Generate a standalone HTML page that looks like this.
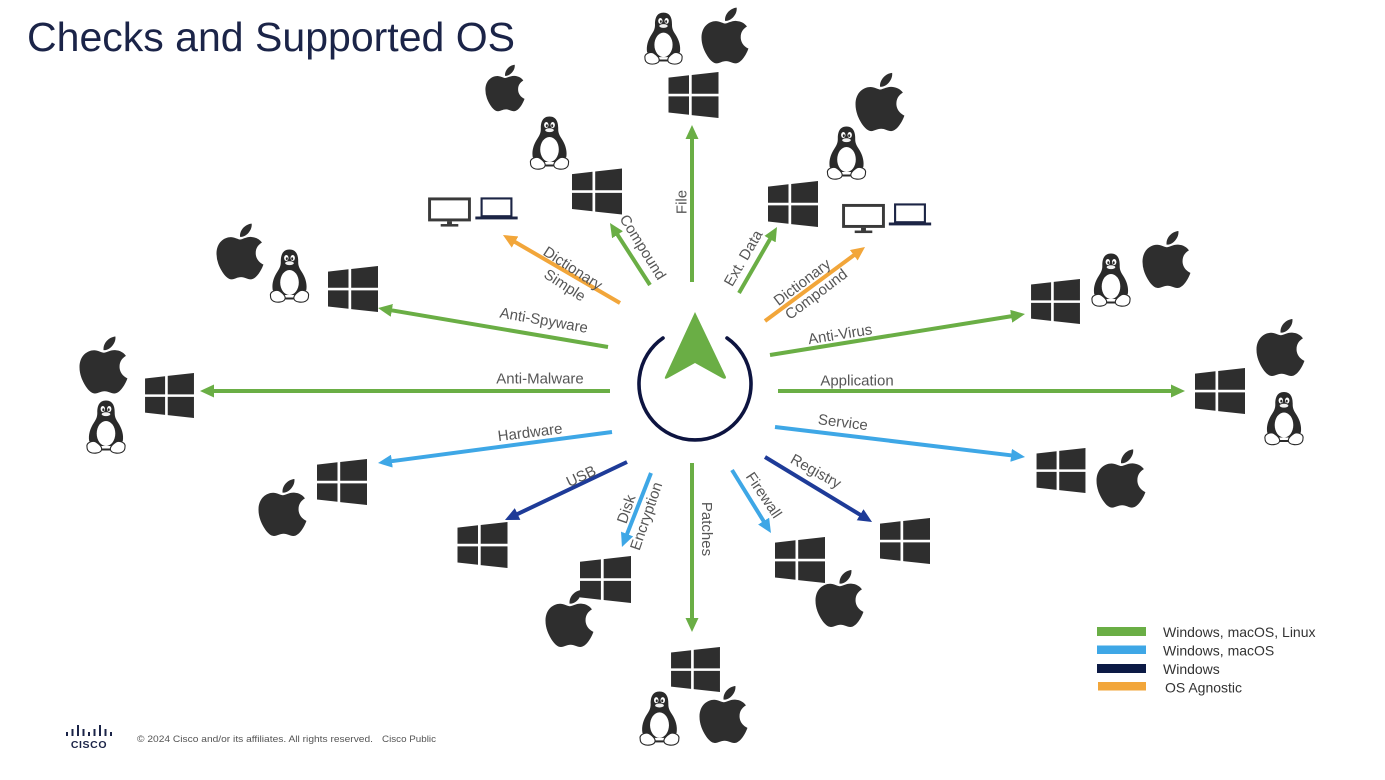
<!DOCTYPE html>
<html>
<head>
<meta charset="utf-8">
<style>
  html,body{margin:0;padding:0;background:#fff;}
  body{width:1385px;height:780px;overflow:hidden;}
  svg{display:block;}
  .lbl{font-family:"Liberation Sans",Arial,sans-serif;font-size:15px;fill:#565656;text-anchor:middle;}
  .leg{font-family:"Liberation Sans",Arial,sans-serif;font-size:14px;fill:#333;}
</style>
</head>
<body>
<svg width="1385" height="780" viewBox="0 0 1385 780" xmlns="http://www.w3.org/2000/svg">
  <defs>
    <symbol id="win" viewBox="0 0 50 46">
      <polygon points="0,5.6 20.5,3.3 20.5,21.8 0,21.8" fill="#2e2e2e"/>
      <polygon points="23.2,3 50,0 50,21.8 23.2,21.8" fill="#2e2e2e"/>
      <polygon points="0,24.4 20.5,24.4 20.5,42.8 0,40.5" fill="#2e2e2e"/>
      <polygon points="23.2,24.4 50,24.4 50,46 23.2,43.1" fill="#2e2e2e"/>
    </symbol>
    <symbol id="apple" viewBox="0 30 385 452">
      <path fill="#2e2e2e" d="M318.7 268.7c-.2-36.7 16.4-64.4 50-84.8-18.8-26.9-47.2-41.7-84.7-44.6-35.5-2.8-74.3 20.7-88.5 20.7-15 0-49.4-19.7-76.4-19.7C63.3 141.2 4 184.8 4 273.5q0 39.3 14.4 81.2c12.8 36.7 59 126.7 107.2 125.2 25.2-.6 43-17.9 75.8-17.9 31.8 0 48.3 17.9 76.4 17.9 48.6-.7 90.4-82.5 102.6-119.3-65.2-30.7-61.7-90-61.7-91.9zm-56.6-164.2c27.3-32.4 24.8-61.9 24-72.5-24.1 1.4-52 16.4-67.9 34.9-17.5 19.8-27.8 44.3-25.4 71.9 26.1 2 49.9-11.4 69.3-34.3z"/>
    </symbol>
    <symbol id="tux" viewBox="0 0 44 56">
      <path fill="#2a2a2a" d="M22,1.5 C15,1.5 13.2,7.5 13.3,13.5 C13.4,17.5 12.3,20 10,23.5 C6,29.5 4.2,36 5.2,42 L10,47 L34,47 L38.8,42 C39.8,36 38,29.5 34,23.5 C31.7,20 30.6,17.5 30.7,13.5 C30.8,7.5 29,1.5 22,1.5 Z"/>
      <ellipse cx="22" cy="34.5" rx="9.3" ry="12.5" fill="#fff"/>
      <ellipse cx="18.8" cy="10" rx="2.2" ry="3" fill="#fff"/>
      <ellipse cx="25.2" cy="10" rx="2.2" ry="3" fill="#fff"/>
      <ellipse cx="19.3" cy="10.6" rx="1" ry="1.4" fill="#2a2a2a"/>
      <ellipse cx="24.7" cy="10.6" rx="1" ry="1.4" fill="#2a2a2a"/>
      <ellipse cx="22" cy="15.2" rx="4.8" ry="2.4" fill="#f2f2f2" stroke="#2a2a2a" stroke-width="0.9"/>
      <path d="M3,48 C2,44 8,41 12,43 C15,45 18.5,48 17.5,51 C16.5,54 10,55.2 6,53.2 C4,52.2 3,50 3,48 Z" fill="#fff" stroke="#2a2a2a" stroke-width="1.1"/>
      <path d="M41,48 C42,44 36,41 32,43 C29,45 25.5,48 26.5,51 C27.5,54 34,55.2 38,53.2 C40,52.2 41,50 41,48 Z" fill="#fff" stroke="#2a2a2a" stroke-width="1.1"/>
      <rect x="17.5" y="49.5" width="9" height="2" fill="#2a2a2a"/>
    </symbol>
    <symbol id="mon" viewBox="0 0 44 31">
      <rect x="1.6" y="1.6" width="40.8" height="21.5" fill="none" stroke="#3a3a3a" stroke-width="3"/>
      <rect x="19.5" y="24.5" width="5" height="3" fill="#3a3a3a"/>
      <rect x="13" y="27.3" width="18" height="2.6" fill="#3a3a3a"/>
    </symbol>
    <symbol id="lap" viewBox="0 0 44 26">
      <rect x="6.5" y="1.5" width="31" height="18.5" fill="none" stroke="#1c2545" stroke-width="2.2"/>
      <rect x="0" y="20.3" width="44" height="3" fill="#1c2545"/>
    </symbol>
    <marker id="mg" markerUnits="userSpaceOnUse" markerWidth="14" markerHeight="13" refX="4" refY="6.5" orient="auto"><path d="M0,0 L14,6.5 L0,13 z" fill="#6aae45"/></marker>
    <marker id="mb" markerUnits="userSpaceOnUse" markerWidth="14" markerHeight="13" refX="4" refY="6.5" orient="auto"><path d="M0,0 L14,6.5 L0,13 z" fill="#3ea7e6"/></marker>
    <marker id="mn" markerUnits="userSpaceOnUse" markerWidth="14" markerHeight="13" refX="4" refY="6.5" orient="auto"><path d="M0,0 L14,6.5 L0,13 z" fill="#1e3b98"/></marker>
    <marker id="mo" markerUnits="userSpaceOnUse" markerWidth="14" markerHeight="13" refX="4" refY="6.5" orient="auto"><path d="M0,0 L14,6.5 L0,13 z" fill="#f2a63a"/></marker>
  </defs>

  <!-- Title -->
  <text x="27" y="51" font-family="Liberation Sans, Arial, sans-serif" font-size="41" fill="#1b2448" textLength="488" lengthAdjust="spacingAndGlyphs">Checks and Supported OS</text>

  <!-- Arrows -->
  <g stroke-width="4" fill="none">
    <line x1="692" y1="282" x2="692" y2="135" stroke="#6aae45" marker-end="url(#mg)"/>
    <line x1="650" y1="285" x2="615.4" y2="231.4" stroke="#6aae45" marker-end="url(#mg)"/>
    <line x1="620" y1="303" x2="511.6" y2="240" stroke="#f2a63a" marker-end="url(#mo)"/>
    <line x1="608" y1="347" x2="387.9" y2="309.7" stroke="#6aae45" marker-end="url(#mg)"/>
    <line x1="610" y1="391" x2="210" y2="391" stroke="#6aae45" marker-end="url(#mg)"/>
    <line x1="612" y1="432" x2="387.9" y2="461.7" stroke="#3ea7e6" marker-end="url(#mb)"/>
    <line x1="627" y1="462" x2="514" y2="515.7" stroke="#1e3b98" marker-end="url(#mn)"/>
    <line x1="651" y1="473" x2="625.6" y2="537.7" stroke="#3ea7e6" marker-end="url(#mb)"/>
    <line x1="692" y1="463" x2="692" y2="622" stroke="#6aae45" marker-end="url(#mg)"/>
    <line x1="732" y1="470" x2="765.7" y2="524.5" stroke="#3ea7e6" marker-end="url(#mb)"/>
    <line x1="765" y1="457" x2="863.5" y2="516.8" stroke="#1e3b98" marker-end="url(#mn)"/>
    <line x1="775" y1="427" x2="1015.1" y2="455.8" stroke="#3ea7e6" marker-end="url(#mb)"/>
    <line x1="778" y1="391" x2="1175" y2="391" stroke="#6aae45" marker-end="url(#mg)"/>
    <line x1="770" y1="355" x2="1015.1" y2="315.6" stroke="#6aae45" marker-end="url(#mg)"/>
    <line x1="765" y1="321" x2="857" y2="252.9" stroke="#f2a63a" marker-end="url(#mo)"/>
    <line x1="739" y1="293" x2="772" y2="235.7" stroke="#6aae45" marker-end="url(#mg)"/>
  </g>

  <!-- Center logo -->
  <path d="M663,338 A56,56 0 1 0 727,338" fill="none" stroke="#0d1440" stroke-width="3.6" stroke-linecap="round"/>
  <path d="M695,312 L726,377 Q726,380 722,378 L695,363 L668,378 Q664,380 665,377 Z" fill="#6aae45"/>

  <!-- Labels -->
  <text class="lbl" transform="translate(681,202) rotate(-90)" dy="0.35em">File</text>
  <text class="lbl" transform="translate(643,247) rotate(58)" dy="0.35em">Compound</text>
  <text class="lbl" transform="translate(573,268) rotate(33)" dy="0.35em">Dictionary</text>
  <text class="lbl" transform="translate(565,285) rotate(33)" dy="0.35em">Simple</text>
  <text class="lbl" transform="translate(544,320) rotate(10)" dy="0.35em">Anti-Spyware</text>
  <text class="lbl" transform="translate(540,378)" dy="0.35em">Anti-Malware</text>
  <text class="lbl" transform="translate(530,432) rotate(-7)" dy="0.35em">Hardware</text>
  <text class="lbl" transform="translate(581,476) rotate(-25)" dy="0.35em">USB</text>
  <text class="lbl" transform="translate(626,509) rotate(-71)" dy="0.35em">Disk</text>
  <text class="lbl" transform="translate(646,516) rotate(-71)" dy="0.35em">Encryption</text>
  <text class="lbl" transform="translate(707,529) rotate(90)" dy="0.35em">Patches</text>
  <text class="lbl" transform="translate(764,495) rotate(56)" dy="0.35em">Firewall</text>
  <text class="lbl" transform="translate(816,471) rotate(29)" dy="0.35em">Registry</text>
  <text class="lbl" transform="translate(843,422) rotate(7)" dy="0.35em">Service</text>
  <text class="lbl" transform="translate(857,380)" dy="0.35em">Application</text>
  <text class="lbl" transform="translate(840,334) rotate(-9)" dy="0.35em">Anti-Virus</text>
  <text class="lbl" transform="translate(802,282) rotate(-37)" dy="0.35em">Dictionary</text>
  <text class="lbl" transform="translate(816,294) rotate(-37)" dy="0.35em">Compound</text>
  <text class="lbl" transform="translate(743,258) rotate(-60)" dy="0.35em">Ext. Data</text>

  <!-- Icons: File (top) -->
  <use href="#tux" x="642" y="11" width="43" height="55"/>
  <use href="#apple" x="701" y="7" width="48" height="57"/>
  <use href="#win" x="668" y="72" width="51" height="46"/>
  <!-- Compound -->
  <use href="#apple" x="485" y="58" width="40" height="60"/>
  <use href="#tux" x="527" y="115" width="45" height="56"/>
  <use href="#win" x="572" y="168" width="50" height="47"/>
  <!-- Dictionary Simple -->
  <use href="#mon" x="428" y="197" width="43" height="31"/>
  <use href="#lap" x="475" y="197" width="43" height="25"/>
  <!-- Ext. Data -->
  <use href="#apple" x="855" y="72" width="50" height="60"/>
  <use href="#tux" x="824" y="125" width="45" height="56"/>
  <use href="#win" x="768" y="181" width="50" height="46"/>
  <!-- Dictionary Compound -->
  <use href="#mon" x="842" y="203" width="43" height="32"/>
  <use href="#lap" x="888" y="203" width="44" height="25"/>
  <!-- Anti-Spyware -->
  <use href="#apple" x="216" y="221" width="48" height="61"/>
  <use href="#tux" x="267" y="248" width="45" height="56"/>
  <use href="#win" x="328" y="266" width="50" height="46"/>
  <!-- Anti-Malware -->
  <use href="#apple" x="79" y="335" width="49" height="60"/>
  <use href="#tux" x="84" y="399" width="44" height="56"/>
  <use href="#win" x="144" y="373" width="51" height="45"/>
  <!-- Hardware -->
  <use href="#win" x="317" y="459" width="50" height="46"/>
  <use href="#apple" x="258" y="477" width="49" height="61"/>
  <!-- USB -->
  <use href="#win" x="457" y="522" width="51" height="46"/>
  <!-- Disk Encryption -->
  <use href="#win" x="580" y="556" width="51" height="47"/>
  <use href="#apple" x="545" y="588" width="49" height="61"/>
  <!-- Patches -->
  <use href="#win" x="670" y="647" width="51" height="45"/>
  <use href="#tux" x="637" y="690" width="45" height="57"/>
  <use href="#apple" x="699" y="683" width="49" height="63"/>
  <!-- Firewall -->
  <use href="#win" x="775" y="537" width="50" height="46"/>
  <use href="#apple" x="815" y="568" width="49" height="61"/>
  <!-- Registry -->
  <use href="#win" x="880" y="518" width="50" height="46"/>
  <!-- Service -->
  <use href="#win" x="1036" y="448" width="50" height="45"/>
  <use href="#apple" x="1096" y="448" width="50" height="61"/>
  <!-- Application -->
  <use href="#win" x="1195" y="368" width="50" height="46"/>
  <use href="#apple" x="1256" y="317" width="49" height="61"/>
  <use href="#tux" x="1262" y="390" width="44" height="57"/>
  <!-- Anti-Virus -->
  <use href="#win" x="1030" y="279" width="51" height="45"/>
  <use href="#tux" x="1089" y="252" width="44" height="56"/>
  <use href="#apple" x="1142" y="229" width="49" height="61"/>

  <!-- Legend -->
  <rect x="1097" y="627" width="49" height="9" fill="#6aae45"/>
  <rect x="1097" y="645.5" width="49" height="8.5" fill="#3ea7e6"/>
  <rect x="1097" y="664" width="49" height="9" fill="#0c1a45"/>
  <rect x="1098" y="682" width="48" height="8.5" fill="#f2a63a"/>
  <text class="leg" x="1163" y="637">Windows, macOS, Linux</text>
  <text class="leg" x="1163" y="655.5">Windows, macOS</text>
  <text class="leg" x="1163" y="674">Windows</text>
  <text class="leg" x="1165" y="692.5">OS Agnostic</text>

  <!-- Footer -->
  <g fill="#1b2448">
    <rect x="66" y="732" width="2" height="4"/>
    <rect x="71.5" y="729" width="2" height="7"/>
    <rect x="77" y="725" width="2" height="11"/>
    <rect x="82.5" y="729" width="2" height="7"/>
    <rect x="88" y="732" width="2" height="4"/>
    <rect x="93.5" y="729" width="2" height="7"/>
    <rect x="99" y="725" width="2" height="11"/>
    <rect x="104.5" y="729" width="2" height="7"/>
    <rect x="110" y="732" width="2" height="4"/>
  </g>
  <text x="89" y="748" text-anchor="middle" font-family="Liberation Sans, Arial, sans-serif" font-weight="bold" font-size="10.5" letter-spacing="0.6" fill="#1b2448">CISCO</text>
  <text x="137" y="742" font-family="Liberation Sans, Arial, sans-serif" font-size="9.5" fill="#555" textLength="236" lengthAdjust="spacingAndGlyphs">© 2024  Cisco and/or its affiliates. All rights reserved.</text>
  <text x="382" y="742" font-family="Liberation Sans, Arial, sans-serif" font-size="9.5" fill="#555" textLength="54" lengthAdjust="spacingAndGlyphs">Cisco Public</text>
</svg>
</body>
</html>
